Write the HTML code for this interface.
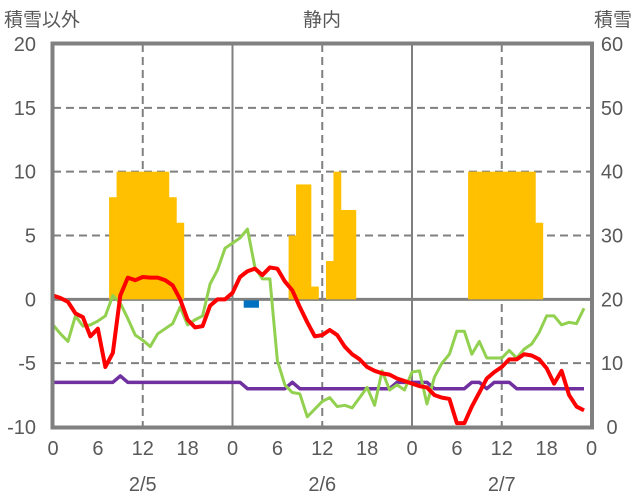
<!DOCTYPE html>
<html><head><meta charset="utf-8"><style>
body{margin:0;background:#fff}
svg{display:block;font-family:"Liberation Sans","Noto Sans CJK JP",sans-serif}
</style></head><body>
<svg id="chart" width="636" height="501" viewBox="0 0 636 501">
<g id="grid"></g>
<g id="bars"></g>
<g id="lines"></g>
<g id="frame"></g>
<g id="labels" fill="#595959"></g>
<text x="4" y="26" font-size="19" fill="#595959">積雪以外</text>
<text x="322" y="26" font-size="19" fill="#595959" text-anchor="middle">静内</text>
<text x="632" y="26" font-size="19" fill="#595959" text-anchor="end">積雪</text>
</svg>
<script>
const snowHours=[8,9,10,11,12,13,14,15,16,17,32,33,34,35,37,38,39,40,56,57,58,59,60,61,62,63,64,65];
const snowVals=[8,10,10,10,10,10,10,10,8,6,5,9,9,1,3,10,7,7,10,10,10,10,10,10,10,10,10,6];
const blueHours=[26,27];
const blueVals=[-0.5,-0.5];
const redVals=[0.3,0.1,-0.2,-1.1,-1.4,-2.9,-2.3,-5.3,-4.2,0.3,1.7,1.5,1.75,1.7,1.7,1.5,1.1,0,-1.6,-2.2,-2.1,-0.5,0,0,
0.5,1.75,2.2,2.4,1.9,2.5,2.4,1.4,0.7,-0.6,-1.8,-2.9,-2.8,-2.4,-2.8,-3.7,-4.3,-4.7,-5.3,-5.6,-5.8,-5.9,-6.2,-6.4,
-6.6,-6.8,-6.9,-7.5,-7.7,-7.8,-9.7,-9.7,-8.4,-7.3,-6.2,-5.7,-5.3,-4.7,-4.7,-4.3,-4.4,-4.7,-5.4,-6.6,-5.6,-7.5,-8.4,-8.7];
const greenVals=[-2.0,-2.7,-3.3,-1.3,-2.1,-2.0,-1.7,-1.3,0.3,-0.3,-1.5,-2.8,-3.2,-3.7,-2.7,-2.3,-1.9,-0.6,-2.0,-1.6,-1.3,1.2,2.3,4.0,
4.4,4.8,5.5,2.5,1.6,1.6,-4.8,-6.7,-7.3,-7.4,-9.2,-8.6,-8.0,-7.7,-8.4,-8.3,-8.5,-7.7,-6.9,-8.3,-5.6,-7.1,-6.7,-7.1,
-5.7,-5.6,-8.2,-6.1,-5.0,-4.3,-2.5,-2.5,-4.3,-3.3,-4.6,-4.6,-4.6,-4.0,-4.6,-3.9,-3.5,-2.6,-1.3,-1.3,-2.0,-1.8,-1.9,-0.7];
const purpleVals=[-6.5,-6.5,-6.5,-6.5,-6.5,-6.5,-6.5,-6.5,-6.5,-6.0,-6.5,-6.5,-6.5,-6.5,-6.5,-6.5,-6.5,-6.5,-6.5,-6.5,-6.5,-6.5,-6.5,-6.5,
-6.5,-6.5,-7,-7,-7,-7,-7,-7,-6.5,-7,-7,-7,-7,-7,-7,-7,-7,-7,-7,-7,-7,-7,-6.5,-6.5,
-6.5,-6.5,-6.5,-7,-7,-7,-7,-7,-6.5,-6.5,-7,-6.5,-6.5,-6.5,-7,-7,-7,-7,-7,-7,-7,-7,-7,-7];
const leftTicks=[20,15,10,5,0,-5,-10];
const rightTicks=[60,50,40,30,20,10,0];
const hourTicks=[0,6,12,18,0,6,12,18,0,6,12,18,0];
const dateLabels=["2/5","2/6","2/7"];

const NS="http://www.w3.org/2000/svg";
const X0=53,X1=591.5,YT=44,YB=427;
const x=h=>X0+(X1-X0)*h/72;
const y=v=>YB-(YB-YT)*(v+10)/30;
function mk(tag,attrs,parent){const e=document.createElementNS(NS,tag);for(const k in attrs)e.setAttribute(k,attrs[k]);document.getElementById(parent).appendChild(e);return e;}

// grid
leftTicks.forEach(v=>{
  if(v===20||v===-10)return;
  const l=mk('line',{x1:X0,x2:X1,y1:y(v),y2:y(v),stroke:'#808080','stroke-width':v===0?3:2,'stroke-dasharray':v===0?'none':'8,5'},'grid');
  
  
});
for(let h=12;h<72;h+=12){
  const day=h%24===0;
  const l=mk('line',{x1:x(h),x2:x(h),y1:YT,y2:YB,stroke:'#808080','stroke-width':day?2:2,'stroke-dasharray':day?'none':'8,5'},'grid');
  
  
}
// bars
const bw=(X1-X0)/72;
snowHours.forEach((h,i)=>{
  const r=mk('rect',{x:x(h)-bw/2,width:bw+0.3,y:y(snowVals[i]),height:y(0)-y(snowVals[i]),fill:'#FFC000'},'bars');
  
  
});
blueHours.forEach((h,i)=>{
  const r=mk('rect',{x:x(h)-bw/2,width:bw+0.3,y:y(0)+1,height:y(blueVals[i])-y(0)+1,fill:'#0070C0'},'bars');
  
  
});
// lines
function line(vals,color,w,name){
  const p=mk('polyline',{points:vals.map((v,i)=>x(i)+','+y(v)).join(' '),fill:'none',stroke:color,'stroke-width':w,'stroke-linejoin':'round'},'lines');
  
  
}
line(purpleVals,'#7030A0',3.5,'purple-line');
line(greenVals,'#92D050',3,'green-line');
line(redVals,'#FF0000',4,'red-line');
// frame
const f=mk('rect',{x:X0-0.5,y:YT-0.5,width:X1-X0+1,height:YB-YT+1,fill:'none',stroke:'#808080','stroke-width':4},'frame');


// labels
leftTicks.forEach(v=>{
  const t=mk('text',{x:36,y:y(v)+7,'font-size':20,'text-anchor':'end'},'labels');t.textContent=v;
  
  
});
rightTicks.forEach((v,i)=>{
  const t=mk('text',{x:612,y:y(leftTicks[i])+7,'font-size':20,'text-anchor':'middle'},'labels');t.textContent=v;
  
  
});
hourTicks.forEach((v,i)=>{
  const t=mk('text',{x:x(i*6),y:455,'font-size':20,'text-anchor':'middle'},'labels');t.textContent=v;
  
  
});
dateLabels.forEach((d,i)=>{
  const t=mk('text',{x:x(i*24+12),y:491,'font-size':20,'text-anchor':'middle'},'labels');t.textContent=d;
  
  
});
</script>
</body></html>
